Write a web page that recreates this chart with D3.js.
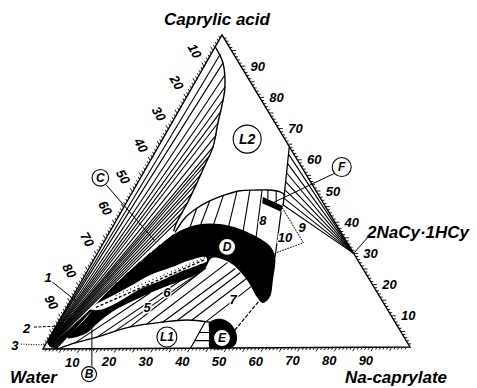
<!DOCTYPE html>
<html>
<head>
<meta charset="utf-8">
<script src="https://cdn.jsdelivr.net/npm/d3@7/dist/d3.min.js"></script>
<style>
  body { margin: 0; background: #fff; }
  svg { display: block; }
  text { font-family: 'Liberation Sans', Arial, sans-serif; font-weight: bold; font-style: italic; fill: #000; }
</style>
</head>
<body>
<div id="chart"></div>
<script>
const width = 477;
const height = 388;

// axis tick labels, weight %
const naTicks = [10, 20, 30, 40, 50, 60, 70, 80, 90];
const cyTicks = [10, 20, 30, 40, 50, 60, 70, 80, 90];
const waterTicks = [10, 20, 30, 40, 50, 60, 70, 80, 90];

// every point is [Na-caprylate %, caprylic acid %]; water is the remainder
const compound = [70, 30]; // 2NaCy.1HCy

const l2Curve = [[0, 96.2], [4.6, 91.1], [8.9, 83.4], [10.4, 79.3], [12.6, 71.9], [15.0, 64.2],
  [15.6, 58.5], [16.2, 52.7], [16.7, 46.4], [16.8, 40.4], [17.3, 37.6]];
const l2Right = [[35.8, 64.2], [43.2, 45.6]];

const dArc = [[17.9, 37.2], [18.4, 41.7], [20.1, 44.7], [22.5, 47.0], [25.7, 48.9], [29.2, 50.2],
  [33.1, 50.4], [36.7, 50.4], [40.3, 49.8], [42.1, 48.8]];

const l1Curve = [[4.1, 0], [7.8, 1.9], [12.9, 3.7], [20.4, 6.9], [28.6, 8.4], [34.9, 9.0], [41.3, 8.3]];
const l1Right = [[40.2, 0], [40.1, 8.4]];

const dBand = [[52.9, 14.3], [53.9, 16.2], [52.1, 21.6], [49.1, 29.0], [46.0, 32.5], [41.1, 35.4],
  [35.1, 38.0], [28.9, 39.6], [23.4, 39.6], [19.0, 37.5], [15.8, 33.0], [12.9, 27.6], [9.9, 21.0],
  [8.0, 15.6], [7.0, 10.1], [5.0, 3.5], [9.1, 4.7], [11.2, 8.8], [14.0, 12.7], [17.5, 15.5],
  [20.5, 17.7], [24.7, 20.2], [29.6, 23.0], [31.7, 25.6], [32.0, 28.8], [37.7, 27.2], [45.0, 21.7],
  [50.4, 16.2]];
const dHole = [[30.2, 29.1], [26.3, 28.1], [22.1, 25.7], [17.7, 23.4], [14.0, 19.9], [10.2, 16.5],
  [7.3, 14.0], [6.6, 12.7], [9.5, 12.4], [13.2, 14.9], [17.2, 19.0], [21.4, 21.5], [25.4, 24.4],
  [29.3, 26.5], [31.1, 27.8]];
const dHoleDash = [[8.0, 13.2], [30.3, 28.3]];
const dHoleDots = [[11.5, 17.0], [30.0, 28.9]];

const eBlob = [[41.3, 8.0], [42.0, 9.0], [44.2, 9.3], [47.0, 8.0], [49.5, 5.8], [51.3, 3.2],
  [51.9, 1.0], [51.0, 0], [45.5, 0], [43.7, 3.2], [42.1, 6.4]];
const fBar = [[36.4, 48.2], [43.3, 45.3], [43.7, 43.4], [37.2, 46.2]];

// tie lines: [na1, cy1, na2, cy2]
const wedgeTies = [
  [0, 2.8, 2.5, 93.8], [0, 2.6, 4.6, 91.1], [0.1, 2.4, 7.0, 87.0], [0.2, 2.2, 8.9, 83.4],
  [0.3, 2.1, 10.4, 79.3], [0.4, 2.0, 11.6, 75.5], [0.5, 1.9, 12.6, 71.9], [0.6, 1.8, 14.0, 68.0],
  [0.7, 1.7, 15.0, 64.2], [0.8, 1.6, 15.4, 61.3], [0.9, 1.5, 15.6, 58.5], [1.0, 1.4, 16.0, 55.5],
  [1.1, 1.3, 16.2, 52.7], [1.2, 1.2, 16.5, 49.5], [1.3, 1.1, 16.7, 46.4], [1.4, 1.0, 16.8, 43.4],
  [1.5, 0.9, 16.8, 40.4]];
const fanTies = [
  [1.7, 0.8, 17.8, 36.2], [1.9, 0.7, 16.9, 34.6], [2.1, 0.6, 15.8, 33.0], [2.4, 0.5, 14.4, 30.4],
  [2.7, 0.4, 12.9, 27.6], [3.0, 0.3, 11.4, 24.3], [3.3, 0.2, 9.9, 21.0], [3.6, 0.1, 8.9, 18.3]];
const l1Ties = [
  [7.8, 1.9, 20.5, 17.7], [12.9, 3.7, 26.8, 21.5], [16.9, 5.6, 30.9, 24.3], [20.4, 6.9, 31.9, 25.6],
  [24.5, 7.8, 36.9, 27.2], [28.6, 8.4, 40.0, 25.3], [32.4, 9.1, 42.0, 24.0], [36.2, 9.0, 44.6, 22.1],
  [40.4, 8.6, 47.1, 19.5]];
const arcHatch = [
  [20.1, 44.7, 21.2, 38.7], [22.5, 47.0, 23.7, 39.6], [25.4, 48.6, 27.2, 39.6], [28.5, 49.9, 31.6, 39.0],
  [31.8, 50.4, 36.3, 37.4], [35.1, 50.4, 40.8, 35.4], [36.7, 50.4, 38.1, 47.5], [39.1, 50.1, 41.0, 46.2]];
const compoundFanEnds = [[37.0, 61.6], [38.1, 58.7], [39.2, 55.8], [40.3, 53.0], [41.3, 50.4],
  [42.3, 47.8], [43.2, 45.6]];
const l1Steps = [[40.15, 5.0, 42.8, 5.0], [40.2, 2.4, 44.2, 2.4]];

const region10Edge = [[43.7, 43.4], [49.1, 29.0]];
const dottedEdge = [[43.5, 44.6], [54.6, 33.5], [48.1, 30.0]];
const dashedEdge = [[49.5, 5.8], [51.5, 14.6]];

// labels
const circleLabels = [
  { text: 'L2', at: [23.1, 66.7], r: 14 },
  { text: 'D', at: [34.4, 32.3], r: 8.5 },
  { text: 'L1', at: [32.0, 3.6], r: 10 },
  { text: 'E', at: [47.2, 3.2], r: 8.5 },
  { text: 'B', at: [16.5, -8.1], r: 7.5 },
  { text: 'C', at: [-11.0, 54.6], r: 8.3 },
  { text: 'F', at: [53.3, 57.6], r: 9.5 },
];
const numberLabels = [
  { text: '1', at: [-9.8, 23.0] }, { text: '2', at: [-7.7, 6.7] }, { text: '3', at: [-8.3, 1.3] },
  { text: '5', at: [21.9, 13.2] }, { text: '6', at: [25.0, 18.0] }, { text: '7', at: [44.3, 15.4] },
  { text: '8', at: [40.0, 40.8] }, { text: '9', at: [51.8, 38.5] }, { text: '10', at: [48.8, 35.1] },
];
const leaders = [
  { pts: [[-7.9, 21.4], [1.5, 15.3]], dash: null },
  { pts: [[-5.9, 7.0], [0.5, 7.3]], dash: '3 1.5' },
  { pts: [[-6.8, 1.6], [0, 1.3]], dash: '1 1.5' },
  { pts: [[16.0, -5.5], [10.1, 6.6]], dash: null },
  { pts: [[-8.4, 52.4], [13.9, 34.2]], dash: null },
  { pts: [[52.4, 55.7], [39.9, 46.2]], dash: null },
  { pts: [compound, [71.4, 35.2]], dash: null },
];

// ternary projection
const corner = { water: [43, 349], na: [410, 347], cy: [222, 35] };
const naX = d3.scaleLinear().domain([0, 100]).range([0, corner.na[0] - corner.water[0]]);
const naY = d3.scaleLinear().domain([0, 100]).range([0, corner.na[1] - corner.water[1]]);
const cyX = d3.scaleLinear().domain([0, 100]).range([0, corner.cy[0] - corner.water[0]]);
const cyY = d3.scaleLinear().domain([0, 100]).range([0, corner.cy[1] - corner.water[1]]);
const px = d => corner.water[0] + naX(d[0]) + cyX(d[1]);
const py = d => corner.water[1] + naY(d[0]) + cyY(d[1]);

const unit = (a, b) => {
  const dx = b[0] - a[0], dy = b[1] - a[1], l = Math.hypot(dx, dy);
  return [dx / l, dy / l];
};

const straight = d3.line().x(px).y(py);
const smooth = d3.line().x(px).y(py).curve(d3.curveCatmullRom.alpha(0.5));
const closedSmooth = d3.line().x(px).y(py).curve(d3.curveCatmullRomClosed.alpha(0.5));

const svg = d3.select('#chart').append('svg').attr('width', width).attr('height', height);
svg.append('rect').attr('width', width).attr('height', height).attr('fill', '#fff');

const lines = svg.append('g')
  .attr('fill', 'none')
  .attr('stroke', '#000')
  .attr('stroke-width', 1.1)
  .attr('stroke-linecap', 'round');

function drawTies(rows) {
  lines.append('g').selectAll('line').data(rows).join('line')
    .attr('x1', r => px([r[0], r[1]])).attr('y1', r => py([r[0], r[1]]))
    .attr('x2', r => px([r[2], r[3]])).attr('y2', r => py([r[2], r[3]]));
}

drawTies(wedgeTies);
drawTies(fanTies);
drawTies(l1Ties);
drawTies(arcHatch);
drawTies(l1Steps);
drawTies(compoundFanEnds.map(e => [compound[0], compound[1], e[0], e[1]]));

lines.append('path').attr('d', smooth(l2Curve)).attr('stroke-width', 1.4);
lines.append('path').attr('d', straight(l2Right)).attr('stroke-width', 1.3);
lines.append('path').attr('d', smooth(dArc)).attr('stroke-width', 1.4);
lines.append('path').attr('d', smooth(l1Curve)).attr('stroke-width', 1.4);
lines.append('path').attr('d', straight(l1Right)).attr('stroke-width', 1.2);
lines.append('path').attr('d', straight(region10Edge)).attr('stroke-width', 1.2);
lines.append('path').attr('d', straight(dottedEdge)).attr('stroke-width', 1).attr('stroke-dasharray', '1 1.8');
lines.append('path').attr('d', straight(dashedEdge)).attr('stroke-width', 1.2).attr('stroke-dasharray', '3 2.5');

// phase areas
const areas = svg.append('g');
areas.append('path').attr('d', closedSmooth(dBand)).attr('fill', '#000');
areas.append('path').attr('d', closedSmooth(dHole)).attr('fill', '#fff');
areas.append('path').attr('d', straight(dHoleDash)).attr('fill', 'none')
  .attr('stroke', '#000').attr('stroke-width', 1.4).attr('stroke-dasharray', '3 2');
areas.append('path').attr('d', straight(dHoleDots)).attr('fill', 'none')
  .attr('stroke', '#000').attr('stroke-width', 1.2).attr('stroke-dasharray', '1 3');
areas.append('path').attr('d', closedSmooth(eBlob)).attr('fill', '#000');
areas.append('path').attr('d', straight(fBar) + 'Z').attr('fill', '#000');

// triangle and ticks
const frame = svg.append('g').attr('fill', 'none').attr('stroke', '#000');
frame.append('path').attr('d', straight([[0, 0], [100, 0], [0, 100]]) + 'Z').attr('stroke-width', 1.4);

const sides = [
  { at: v => [v, 0], dir: unit(corner.cy, corner.water), labels: naTicks, gap: 15, rotate: 0 },
  { at: v => [100 - v, v], dir: unit(corner.water, corner.na), labels: cyTicks, gap: 17, rotate: 0 },
  { at: v => [0, 100 - v], dir: unit(corner.na, corner.cy), labels: waterTicks, gap: 18, rotate: 60 },
];

sides.forEach(side => {
  frame.append('g').selectAll('line').data(d3.range(1, 100)).join('line')
    .attr('stroke-width', 0.9)
    .attr('x1', v => px(side.at(v)))
    .attr('y1', v => py(side.at(v)))
    .attr('x2', v => px(side.at(v)) + side.dir[0] * (v % 5 === 0 ? 4.5 : 2.8))
    .attr('y2', v => py(side.at(v)) + side.dir[1] * (v % 5 === 0 ? 4.5 : 2.8));

  svg.append('g').selectAll('text').data(side.labels).join('text')
    .attr('transform', v => {
      const x = px(side.at(v)) + side.dir[0] * side.gap;
      const y = py(side.at(v)) + side.dir[1] * side.gap;
      return `translate(${x},${y}) rotate(${side.rotate})`;
    })
    .attr('text-anchor', 'middle')
    .attr('dy', '0.36em')
    .attr('font-size', 13)
    .text(v => v);
});

// corner names
const apexCy = [px([0, 100]), py([0, 100])];
const apexWater = [px([0, 0]), py([0, 0])];
const apexNa = [px([100, 0]), py([100, 0])];
const names = svg.append('g').attr('font-size', 17);
names.append('text').attr('x', apexCy[0] - 5).attr('y', apexCy[1] - 10).attr('text-anchor', 'middle').text('Caprylic acid');
names.append('text').attr('x', apexWater[0] - 33).attr('y', apexWater[1] + 34).text('Water');
names.append('text').attr('x', apexNa[0] - 65).attr('y', apexNa[1] + 36).text('Na-caprylate');
names.append('text').attr('x', px([71.4, 35.2]) - 1).attr('y', py([71.4, 35.2]) + 1).text('2NaCy\u00b71HCy');

// leader lines
svg.append('g').attr('fill', 'none').attr('stroke', '#000').attr('stroke-width', 1)
  .selectAll('path').data(leaders).join('path')
  .attr('d', d => straight(d.pts))
  .attr('stroke-dasharray', d => d.dash);

// small number labels
svg.append('g').selectAll('text').data(numberLabels).join('text')
  .attr('x', d => px(d.at)).attr('y', d => py(d.at))
  .attr('text-anchor', 'middle').attr('dy', '0.36em')
  .attr('font-size', 13)
  .attr('stroke', '#fff').attr('stroke-width', 2.5).attr('paint-order', 'stroke')
  .text(d => d.text);

// circled phase names
const circ = svg.append('g').selectAll('g').data(circleLabels).join('g')
  .attr('transform', d => `translate(${px(d.at)},${py(d.at)})`);
circ.append('circle').attr('r', d => d.r).attr('fill', '#fff').attr('stroke', '#000').attr('stroke-width', 1.1);
circ.append('text').attr('text-anchor', 'middle').attr('dy', '0.36em')
  .attr('font-size', d => (d.r > 12 ? 14 : 12))
  .text(d => d.text);
</script>
</body>
</html>
